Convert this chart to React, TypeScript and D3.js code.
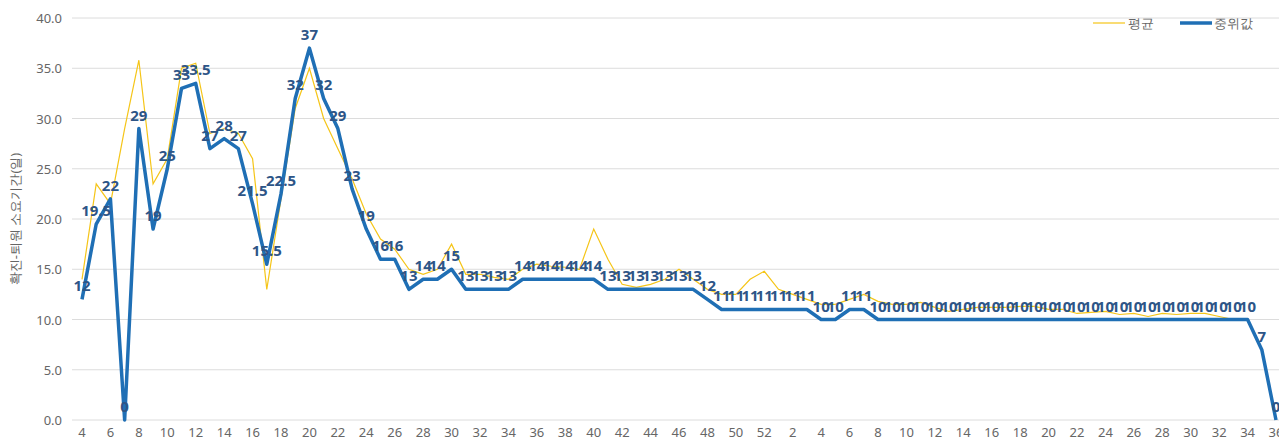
import React, { useEffect, useRef } from 'react'
import * as d3 from 'd3'

const weeks: string[] = [
  ...d3.range(4, 53).map(String),
  ...d3.range(1, 37).map(String),
]

const median: number[] = [
  12, 19.5, 22, 0, 29, 19, 25, 33, 33.5, 27, 28, 27, 21.5, 15.5, 22.5, 32, 37, 32, 29, 23, 19, 16, 16,
  13, 14, 14, 15, 13, 13, 13, 13, 14, 14, 14, 14, 14, 14, 13, 13, 13, 13, 13, 13, 13, 12, 11, 11, 11, 11,
  11, 11, 11, 10, 10, 11, 11,
  10, 10, 10, 10, 10, 10, 10, 10, 10, 10, 10, 10, 10, 10, 10, 10, 10, 10, 10, 10, 10, 10, 10, 10, 10, 10, 10,
  7, 0,
]

const mean: (number | null)[] = [
  14, 23.5, 21.5, 29, 35.8, 23.5, 26, 35, 35.5, 28.5, 29, 28.5, 26, 13, 22, 31, 35, 30, 27, 24, 20.5, 18, 17,
  15, 14.5, 15, 17.5, 14.5, 14.5, 14.2, 14, 15, 15.5, 15.3, 15.2, 15, 19, 16, 13.5, 13.2, 13.5, 14, 15, 14, 13, 12.5,
  12.5, 14, 14.8,
  13, 12.5, 12, 11.5, 11.5, 12, 12.5, 11.8, 11.5, 11.5, 11.7, 11.2, 10.8, 11, 11.2, 11.2, 11.2, 11.3, 11.3, 11, 11,
  10.6, 10.7, 10.8, 10.5, 10.6, 10.3, 10.6, 10.5, 10.6, 10.6, 10.3, 10, 10, null, null,
]

const yTicks = [0, 5, 10, 15, 20, 25, 30, 35, 40]

export default function App() {
  const ref = useRef<SVGSVGElement | null>(null)

  useEffect(() => {
    if (!ref.current) return
    const svg = d3.select(ref.current)
    svg.selectAll('*').remove()
    const font = "'Noto Sans', sans-serif"

    const x = d3.scaleLinear().domain([0, weeks.length - 1]).range([82, 1276])
    const y = d3.scaleLinear().domain([0, 40]).range([420, 18])

    const grid = svg.append('g')
    yTicks.forEach(t => {
      grid.append('line').attr('x1', 72).attr('x2', 1284).attr('y1', y(t)).attr('y2', y(t))
        .attr('stroke', '#dcdcdc').attr('stroke-width', 1)
      grid.append('text').attr('x', 62).attr('y', y(t) + 5).attr('text-anchor', 'end')
        .attr('font-family', font).attr('font-size', 13).attr('fill', '#666').text(t.toFixed(1))
    })

    weeks.forEach((w, i) => {
      if (i % 2 !== 0) return
      svg.append('text').attr('x', x(i)).attr('y', 437).attr('text-anchor', 'middle')
        .attr('font-family', font).attr('font-size', 13).attr('fill', '#666').text(w)
    })

    svg.append('text').attr('transform', `translate(20,${y(20)}) rotate(-90)`).attr('text-anchor', 'middle')
      .attr('font-family', font).attr('font-size', 13).attr('fill', '#666').text('확진-퇴원 소요기간(일)')

    const lineMean = d3.line<number | null>().defined(d => d != null).x((_, i) => x(i)).y(d => y(d as number))
    svg.append('path').attr('d', lineMean(mean)).attr('fill', 'none').attr('stroke', '#f5c518').attr('stroke-width', 1.2)

    const lineMed = d3.line<number>().x((_, i) => x(i)).y(d => y(d))
    svg.append('path').attr('d', lineMed(median)).attr('fill', 'none').attr('stroke', '#1f6fb5')
      .attr('stroke-width', 3.5).attr('stroke-linejoin', 'round')

    median.forEach((v, i) => {
      svg.append('text').attr('x', x(i)).attr('y', y(v) - 8).attr('text-anchor', 'middle')
        .attr('font-family', font).attr('font-size', 15).attr('font-weight', 'bold').attr('fill', '#2d5587')
        .text(String(v))
    })

    const lg = svg.append('g')
    lg.append('line').attr('x1', 1093).attr('x2', 1125).attr('y1', 23).attr('y2', 23).attr('stroke', '#f5c518').attr('stroke-width', 1.2)
    lg.append('text').attr('x', 1128).attr('y', 28).attr('font-family', font).attr('font-size', 13).attr('fill', '#666').text('평균')
    lg.append('line').attr('x1', 1180).attr('x2', 1212).attr('y1', 23).attr('y2', 23).attr('stroke', '#1f6fb5').attr('stroke-width', 3.5)
    lg.append('text').attr('x', 1214).attr('y', 28).attr('font-family', font).attr('font-size', 13).attr('fill', '#666').text('중위값')
  }, [])

  return <svg ref={ref} width={1287} height={445} style={{ display: 'block', margin: -8 }} />
}
